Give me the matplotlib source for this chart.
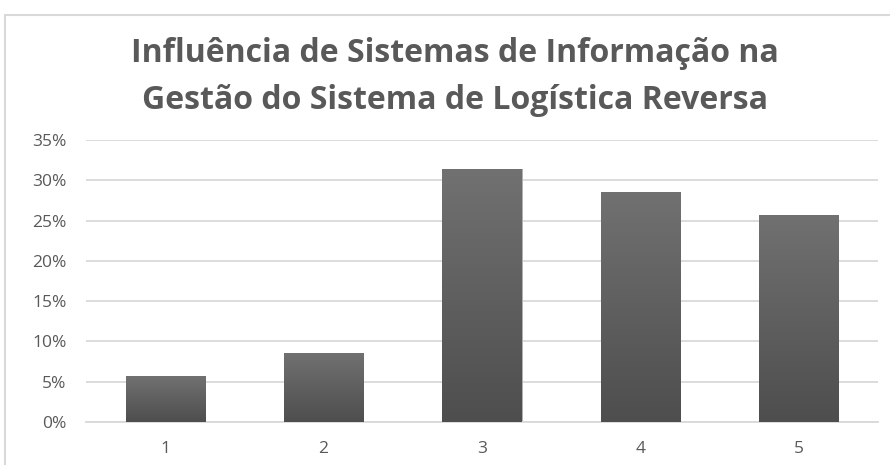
import matplotlib.pyplot as plt
import numpy as np
from matplotlib.patches import Rectangle
from matplotlib.colors import LinearSegmentedColormap
from matplotlib.ticker import FuncFormatter

categories = ['1', '2', '3', '4', '5']
values = [0.057, 0.086, 0.314, 0.286, 0.257]
title = 'Influência de Sistemas de Informação na\nGestão do Sistema de Logística Reversa'

text_color = '#595959'
grid_color = '#d9d9d9'

fig = plt.figure(figsize=(8.9, 4.65), dpi=100)
# chart frame
fig.patches.append(Rectangle((5 / 890, -0.1), 1.2, (450 / 465) + 0.1,
                             transform=fig.transFigure, fill=False,
                             edgecolor=grid_color, linewidth=1.5))

ax = fig.add_axes([86 / 890, 43 / 465, 792 / 890, 282 / 465])
x = np.arange(len(categories))
bars = ax.bar(x, values, width=0.5, color='#606060', zorder=3)

# vertical gradient on each bar
grad = np.linspace(0, 1, 256).reshape(-1, 1)
cmap = LinearSegmentedColormap.from_list('g', ['#4e4e4e', '#717171'])
for b in bars:
    x0, y0 = b.get_x(), b.get_y()
    w, h = b.get_width(), b.get_height()
    # soft shadow
    ax.add_patch(Rectangle((x0 + 0.006, y0), w, h - 0.0005, color='#b0b0b0',
                           zorder=2, linewidth=0))
    im = ax.imshow(grad, extent=(x0, x0 + w, y0, y0 + h), origin='lower',
                   cmap=cmap, aspect='auto', zorder=4)
    im.set_clip_path(b)

ax.set_xlim(-0.5, 4.5)
ax.set_ylim(0, 0.35)
ax.set_yticks(np.arange(0, 0.351, 0.05))
ax.yaxis.set_major_formatter(FuncFormatter(lambda v, p: f'{v * 100:.0f}%'))
ax.set_xticks(x)
ax.set_xticklabels(categories)
ax.grid(axis='y', color=grid_color, linewidth=1.3, zorder=0)
for s in ax.spines.values():
    s.set_visible(False)
ax.spines['bottom'].set_visible(True)
ax.spines['bottom'].set_color(grid_color)
ax.spines['bottom'].set_linewidth(1.3)
ax.tick_params(length=0, colors=text_color, labelsize=12.5)
ax.tick_params(axis='x', pad=14)
ax.tick_params(axis='y', pad=14)
for lbl in ax.get_xticklabels() + ax.get_yticklabels():
    lbl.set_fontfamily('Open Sans')

fig.text(0.511, 0.834, title, ha='center', va='center', fontsize=23,
         fontweight='bold', fontfamily='Open Sans', color=text_color,
         linespacing=1.55)

fig.savefig('out.png', dpi=100)
